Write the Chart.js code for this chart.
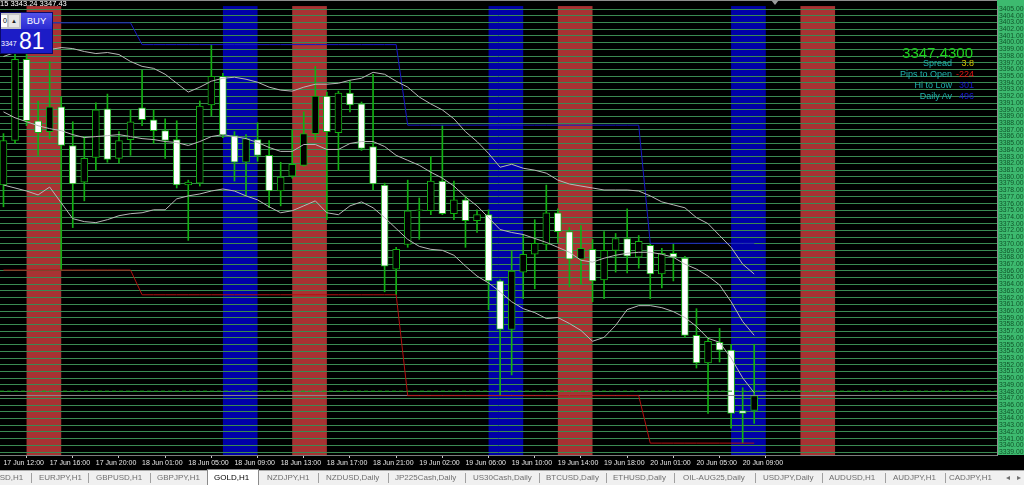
<!DOCTYPE html>
<html>
<head>
<meta charset="utf-8">
<title>GOLD,H1</title>
<script src="https://cdn.jsdelivr.net/npm/chart.js@4.4.1/dist/chart.umd.min.js"></script>
<style>
html,body{margin:0;padding:0;background:#000;}
#wrap{position:relative;width:1024px;height:485px;overflow:hidden;background:#000;font-family:"Liberation Sans",Arial,sans-serif;}
#chart{position:absolute;left:0;top:0;}
#hdr{position:absolute;left:0;top:-1px;color:#fff;font-size:7.5px;line-height:9px;white-space:nowrap;}
#shift{position:absolute;left:771px;top:0;width:0;height:0;border-left:4px solid transparent;border-right:4px solid transparent;border-top:5px solid #9a9a9a;}
#trade{position:absolute;left:0;top:12px;width:53px;height:42px;background:#1c1cc6;border:1px solid #0a0a6a;box-sizing:border-box;}
#trade .tl{position:absolute;left:0;top:0;width:20px;height:16px;background:#c4c4c4;}
#trade .lot{position:absolute;left:0;top:2px;width:6px;height:12px;background:#fff;color:#000;font-size:7px;line-height:12px;text-align:right;}
#trade .arr{position:absolute;left:8px;top:2px;width:10px;height:12px;background:#e6e6e6;color:#222;font-size:6px;line-height:12px;text-align:center;}
#trade .buy{position:absolute;left:20px;top:0;width:31px;height:16px;background:linear-gradient(#5252ea,#2b2bd2);color:#fff;font-size:9.5px;line-height:16px;text-align:center;}
#trade .sm{position:absolute;left:0;top:27px;color:#fff;font-size:7px;line-height:7px;}
#trade .big{position:absolute;left:18px;top:17px;color:#fff;font-size:23px;line-height:23px;}
.info{position:absolute;white-space:nowrap;font-size:9px;line-height:9px;text-align:right;}
#tabs{position:absolute;left:0;top:470px;width:1024px;height:15px;background:#f0f0f0;border-top:1px solid #a8a8a8;box-sizing:border-box;}
#tabs span{position:absolute;top:2px;font-size:8px;line-height:10px;color:#6e6e6e;white-space:nowrap;}
#tabs i{position:absolute;top:2px;width:1px;height:10px;background:#a0a0a0;}
#tabs .act{position:absolute;left:207px;top:-2px;width:52px;height:16px;background:#fff;border:1px solid #8a8a8a;border-bottom:none;box-sizing:border-box;}
</style>
</head>
<body>
<div id="wrap">
<canvas id="chart" width="1024" height="470"></canvas>
<div id="hdr">15 3343.24 3347.43</div>
<div id="shift"></div>
<div id="trade">
  <div class="tl"><div class="lot">0</div><div class="arr">&#9650;</div></div>
  <div class="buy">BUY</div>
  <div class="sm">3347</div>
  <div class="big">81</div>
</div>
<div class="info" style="right:51px;top:45px;font-size:15px;line-height:15px;color:#1ed21e;">3347.4300</div>
<div class="info" style="right:72px;top:59px;color:#1fb3b0;">Spread</div>
<div class="info" style="right:50px;top:59px;color:#d2c400;">3.8</div>
<div class="info" style="right:72px;top:70px;color:#1fb3b0;">Pips to Open</div>
<div class="info" style="right:50px;top:70px;color:#e41414;">-224</div>
<div class="info" style="right:72px;top:81px;color:#1fb3b0;">Hi to Low</div>
<div class="info" style="right:50px;top:81px;color:#1818d8;">301</div>
<div class="info" style="right:72px;top:92px;color:#1fb3b0;">Daily Av</div>
<div class="info" style="right:50px;top:92px;color:#1818d8;">496</div>
<div id="tabs"><div class="act"></div></div>
</div>
<script>
// GOLD H1 candles, 17 Jun 12:00 .. 20 Jun 10:00 (bar index = position on chart)
var opens = [3378.78,3385.41,3397.49,3388.35,3386.73,3390.42,3384.67,3379.22,3382.90,3390.12,
    3382.76,3385.55,3390.27,3388.50,3386.88,3385.55,3378.78,3379.07,3390.71,3394.98,
    3386.14,3382.17,3385.55,3383.20,3377.89,3380.10,3381.72,3386.44,3392.04,3386.59,
    3392.48,3390.86,3384.52,3378.78,3366.26,3369.94,3374.95,3374.95,3379.37,3374.51,
    3376.57,3373.47,3374.36,3364.49,3357.27,3365.81,3368.47,3369.94,3374.65,3371.85,
    3367.73,3369.20,3364.64,3369.05,3370.82,3368.02,3369.79,3365.52,3368.61,3367.88,
    3356.39,3352.26,3355.35,3354.18,3345.19,3345.19];
var highs = [3386.44,3398.96,3402.94,3391.30,3397.19,3391.89,3388.21,3386.00,3391.01,3392.33,
    3386.73,3389.97,3395.87,3389.97,3388.65,3388.35,3379.51,3391.30,3399.70,3395.43,
    3386.73,3386.29,3388.06,3385.41,3382.17,3387.03,3389.68,3396.46,3392.63,3392.77,
    3394.25,3391.15,3395.28,3379.07,3369.50,3379.51,3376.86,3383.05,3387.70,3379.37,
    3377.16,3375.09,3375.09,3364.70,3368.91,3371.41,3373.62,3378.78,3375.24,3372.44,
    3372.74,3370.68,3371.85,3371.56,3375.24,3371.26,3370.10,3369.35,3370.00,3368.17,
    3360.36,3356.09,3357.42,3355.06,3348.58,3355.06];
var lows = [3375.54,3384.97,3387.62,3383.20,3385.70,3366.11,3372.44,3376.42,3380.99,3382.17,
    3382.02,3383.20,3387.62,3384.97,3382.76,3378.34,3370.53,3378.63,3389.09,3385.85,
    3379.37,3377.16,3382.31,3375.39,3375.68,3379.81,3381.58,3385.55,3373.62,3380.99,
    3389.68,3383.93,3378.04,3362.87,3362.43,3369.50,3370.68,3374.36,3374.36,3373.62,
    3369.50,3371.71,3360.22,3347.40,3350.49,3361.84,3363.31,3369.05,3370.23,3363.60,
    3364.05,3361.39,3361.84,3365.81,3365.67,3366.40,3361.84,3363.46,3364.49,3356.09,
    3351.52,3344.75,3352.41,3342.54,3340.33,3343.27];
var closes = [3385.41,3397.49,3388.35,3386.59,3390.42,3384.67,3378.93,3382.76,3389.97,3382.61,
    3385.41,3388.21,3388.50,3386.88,3385.41,3378.78,3379.22,3390.56,3394.98,3386.29,
    3382.17,3385.70,3383.20,3377.89,3379.96,3381.87,3386.44,3392.04,3386.73,3392.48,
    3390.71,3384.23,3378.93,3366.70,3369.20,3374.95,3375.09,3379.37,3374.51,3376.57,
    3373.47,3374.36,3364.49,3357.27,3365.96,3368.47,3370.09,3374.65,3371.85,3367.73,
    3369.35,3364.49,3369.05,3370.82,3368.17,3370.38,3365.52,3368.61,3368.02,3356.39,
    3352.26,3355.50,3354.18,3344.75,3344.75,3347.43];

// envelope lines (upper / middle / lower)
var bandUpper = [3397.93,3398.52,3398.81,3399.11,3398.96,3399.26,3399.11,3398.67,3398.37,3398.52,
    3398.22,3397.19,3396.46,3396.16,3395.28,3393.95,3392.63,3393.36,3394.25,3394.69,
    3394.84,3394.54,3394.10,3393.36,3392.92,3392.77,3393.36,3393.80,3393.80,3393.95,
    3394.39,3394.69,3395.57,3395.28,3394.25,3393.36,3391.89,3390.86,3389.97,3388.65,
    3386.73,3385.26,3383.49,3381.43,3381.87,3381.28,3380.99,3380.55,3379.51,3378.93,
    3378.63,3378.34,3378.04,3378.04,3378.04,3377.89,3377.16,3376.27,3375.83,3375.39,
    3373.92,3373.03,3371.26,3369.50,3366.99,3365.52];
var bandMiddle = [3389.68,3388.80,3388.21,3387.62,3387.18,3386.88,3386.29,3385.85,3386.00,3386.14,
    3386.29,3386.00,3385.70,3385.55,3385.26,3385.11,3384.67,3385.26,3386.00,3386.29,
    3386.00,3385.70,3385.11,3384.38,3383.79,3383.79,3384.82,3384.82,3384.08,3384.08,
    3384.97,3385.26,3385.26,3384.52,3383.20,3382.46,3381.72,3380.69,3379.81,3378.63,
    3377.01,3375.68,3373.92,3372.15,3371.71,3371.41,3370.82,3370.23,3369.50,3368.76,
    3367.58,3367.29,3367.88,3368.32,3368.61,3368.76,3368.76,3368.47,3368.02,3366.99,
    3366.26,3365.22,3363.90,3361.39,3358.45,3356.39];
var bandLower = [3378.78,3378.34,3377.89,3377.31,3378.48,3376.13,3373.77,3373.33,3373.18,3373.62,
    3374.21,3374.51,3374.65,3375.09,3375.09,3376.72,3377.16,3377.45,3377.89,3378.19,
    3377.89,3377.16,3376.57,3375.54,3374.65,3374.95,3375.68,3376.42,3374.65,3374.36,
    3375.68,3376.27,3375.39,3373.92,3372.30,3370.68,3369.64,3369.20,3369.05,3368.32,
    3366.70,3365.22,3364.19,3362.87,3361.39,3360.36,3359.77,3358.89,3359.04,3358.15,
    3357.12,3355.50,3356.09,3357.86,3360.22,3360.81,3360.81,3360.51,3359.92,3359.04,
    3357.71,3355.94,3355.35,3353.00,3350.05,3347.84];

// day high / low levels
var dayFirstBar = [0, 12, 35, 56];
var dayLastBar = [11, 34, 55, 65];
var dayHigh = [3402.94, 3399.70, 3387.70, 3370.10];
var dayLow = [3366.11, 3362.43, 3347.40, 3340.33];

// session boxes: first bar, kind, 3 bars wide
var sessionStart = [2, 19, 25, 42, 48, 63, 69];
var sessionKind = ["ny", "ldn", "ny", "ldn", "ny", "ldn", "ny"];
var sessionBars = 3;

var bidPrice = 3347.43;
var levelPrice = 3348.07;

var timeTickBars = [0,4,8,12,16,20,24,28,32,36,40,44,48,52,56,60,64];
var timeTickLabels = ["17 Jun 12:00","17 Jun 16:00","17 Jun 20:00","18 Jun 01:00","18 Jun 05:00",
    "18 Jun 09:00","18 Jun 13:00","18 Jun 17:00","18 Jun 21:00","19 Jun 02:00","19 Jun 06:00",
    "19 Jun 10:00","19 Jun 14:00","19 Jun 18:00","20 Jun 01:00","20 Jun 05:00","20 Jun 09:00"];
var priceTickLow = 3339;
var priceTickHigh = 3405;

var xMin = -0.3, xMax = 86.02;
var yMin = 3338.56, yMax = 3405.44;

var tabs = [["EURUSD,H1",-23],["EURJPY,H1",39],["GBPUSD,H1",96],["GBPJPY,H1",157],["GOLD,H1",214],
    ["NZDJPY,H1",267],["NZDUSD,Daily",326],["JP225Cash,Daily",395],["US30Cash,Daily",473],
    ["BTCUSD,Daily",546],["ETHUSD,Daily",613],["OIL-AUG25,Daily",683],["USDJPY,Daily",763],
    ["AUDUSD,H1",829],["AUDJPY,H1",893],["CADJPY,H1",949],["\u25C2",1006],["\u25B8",1017]];
var tabSeps = [31,88,150,318,388,465,539,606,674,755,822,885,945];

var tabBar = document.getElementById("tabs");
tabs.forEach(function (t) {
    var s = document.createElement("span");
    s.textContent = t[0];
    s.style.left = t[1] + "px";
    if (t[0] == "GOLD,H1") s.style.color = "#000";
    tabBar.appendChild(s);
});
tabSeps.forEach(function (x) {
    var d = document.createElement("i");
    d.style.left = x + "px";
    tabBar.appendChild(d);
});

var wickData = [], bodyData = [], bodyFill = [];
for (var i = 0; i < opens.length; i++) {
    wickData.push({x: i, y: [lows[i], highs[i]]});
    bodyData.push({x: i, y: [opens[i], closes[i]]});
    bodyFill.push(closes[i] < opens[i] ? "#ffffff" : "#000000");
}

function lineOf(values) {
    return values.map(function (v, i) { return {x: i, y: v}; });
}
function dayLine(levels) {
    var pts = [];
    for (var d = 0; d < levels.length; d++) {
        for (var b = dayFirstBar[d]; b <= dayLastBar[d]; b++) pts.push({x: b, y: levels[d]});
    }
    return pts;
}

var backdrop = {
    id: "backdrop",
    beforeDraw: function (chart) {
        var ctx = chart.ctx, a = chart.chartArea, x = chart.scales.x;
        ctx.save();
        ctx.fillStyle = "#000";
        ctx.fillRect(0, 0, chart.width, chart.height);
        ctx.fillStyle = "#3dba6f";
        ctx.fillRect(a.right, 0, chart.width - a.right, a.bottom);
        ctx.fillStyle = "#8c8c8c";
        ctx.fillRect(0, 0, a.right, 1);
        for (var k = 0; k < sessionStart.length; k++) {
            var x0 = x.getPixelForValue(sessionStart[k]);
            var x1 = x.getPixelForValue(sessionStart[k] + sessionBars);
            ctx.fillStyle = sessionKind[k] == "ny" ? "#a83333" : "#0000a8";
            ctx.fillRect(x0, a.top, x1 - x0, a.bottom - a.top);
        }
        ctx.restore();
    }
};

Chart.defaults.font.family = '"Liberation Sans", Arial, sans-serif';

var thin = {pointRadius: 0, borderWidth: 1, tension: 0, fill: false};

new Chart(document.getElementById("chart").getContext("2d"), {
    type: "bar",
    data: {
        datasets: [
            {type: "line", data: lineOf(bandUpper), borderColor: "#b8b8b8", order: 0, pointRadius: 0, borderWidth: 1, tension: 0},
            {type: "line", data: lineOf(bandMiddle), borderColor: "#b8b8b8", order: 0, pointRadius: 0, borderWidth: 1, tension: 0},
            {type: "line", data: lineOf(bandLower), borderColor: "#b8b8b8", order: 0, pointRadius: 0, borderWidth: 1, tension: 0},
            {type: "line", data: dayLine(dayHigh), borderColor: "#1717c8", order: 0, pointRadius: 0, borderWidth: 1, tension: 0},
            {type: "line", data: dayLine(dayLow), borderColor: "#b40f0f", order: 0, pointRadius: 0, borderWidth: 1, tension: 0},
            {type: "line", data: [{x: xMin, y: bidPrice}, {x: xMax, y: bidPrice}], borderColor: "#8a8a8a", order: 0, pointRadius: 0, borderWidth: 1},
            {type: "line", data: [{x: xMin, y: levelPrice}, {x: xMax, y: levelPrice}], borderColor: "#1fa01f", borderDash: [4, 3], order: 0, pointRadius: 0, borderWidth: 1},
            {data: bodyData, backgroundColor: bodyFill, borderColor: "#12b012", borderWidth: 1, borderSkipped: false, barThickness: 7, grouped: false, order: 1},
            {data: wickData, backgroundColor: "#12b012", borderWidth: 0, barThickness: 1, grouped: false, order: 2}
        ]
    },
    options: {
        responsive: false,
        animation: false,
        devicePixelRatio: 1,
        layout: {padding: {top: 1, left: 0, right: 0, bottom: 0}, autoPadding: false},
        plugins: {legend: {display: false}, tooltip: {enabled: false}},
        scales: {
            x: {
                type: "linear", min: xMin, max: xMax, offset: false, position: "bottom",
                afterFit: function (s) { s.height = 15; },
                afterBuildTicks: function (s) { s.ticks = timeTickBars.map(function (v) { return {value: v}; }); },
                grid: {display: true, drawOnChartArea: false, drawTicks: true, tickLength: 3, color: "#c8c8c8"},
                border: {display: true, color: "#7c7c7c"},
                ticks: {
                    align: "start", autoSkip: false, maxRotation: 0, padding: 1, color: "#e6e6e6",
                    font: {size: 7},
                    callback: function (v, idx) { return timeTickLabels[idx]; }
                }
            },
            y: {
                type: "linear", position: "right", min: yMin, max: yMax,
                afterFit: function (s) { s.width = 27; },
                afterBuildTicks: function (s) {
                    var t = [];
                    for (var p = priceTickLow; p <= priceTickHigh; p++) t.push({value: p});
                    s.ticks = t;
                },
                grid: {color: "#3a8a52", drawTicks: false, lineWidth: 1},
                border: {display: true, color: "#8c8c8c"},
                ticks: {
                    autoSkip: false, padding: 2, color: "#0f5429",
                    font: {size: 6.8},
                    callback: function (v) { return v.toFixed(2); }
                }
            }
        }
    },
    plugins: [backdrop]
});
</script>
</body>
</html>
